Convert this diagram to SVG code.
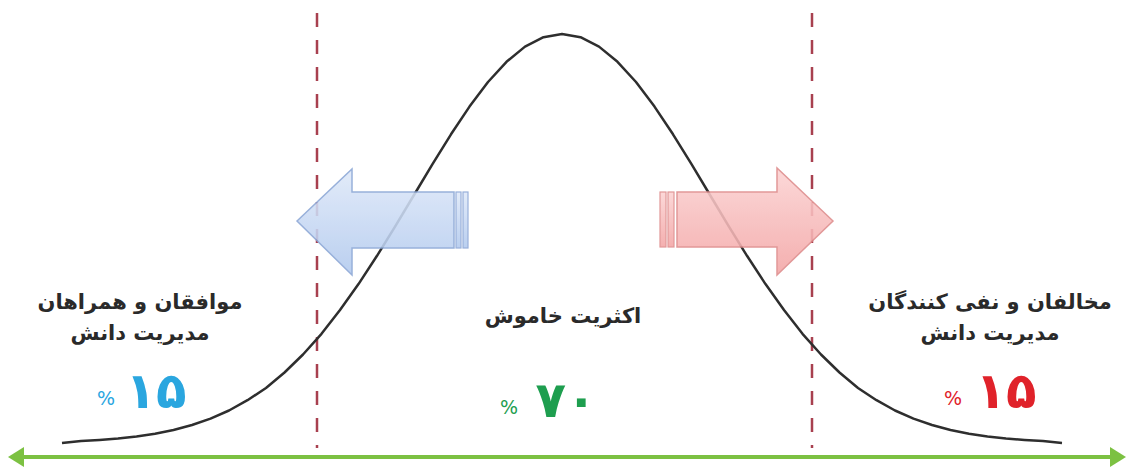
<svg xmlns="http://www.w3.org/2000/svg" width="1134" height="468" viewBox="0 0 1134 468">
<style>
.lbl{font-family:"DejaVu Sans",sans-serif;font-weight:bold;font-size:21px;fill:#2a2a2a;text-anchor:middle}
.num{font-family:"DejaVu Sans",sans-serif;font-weight:bold;font-size:50px;text-anchor:middle}
.pct{font-family:"DejaVu Sans",sans-serif;font-size:19px;text-anchor:middle}
.dash{stroke:#a8404f;stroke-width:2.5;stroke-dasharray:14 13;fill:none}
</style>
<defs>
<linearGradient id="gb" x1="0" y1="0" x2="0" y2="1">
<stop offset="0" stop-color="#dfe9f9"/><stop offset="1" stop-color="#b1c9ee"/>
</linearGradient>
<linearGradient id="gr" x1="0" y1="0" x2="0" y2="1">
<stop offset="0" stop-color="#fcd3d3"/><stop offset="1" stop-color="#f3a5a5"/>
</linearGradient>
<marker id="ga" viewBox="0 0 16 20" refX="2" refY="10" markerWidth="16" markerHeight="20" markerUnits="userSpaceOnUse" orient="auto-start-reverse">
<path d="M0,0 L16,10 L0,20 Z" fill="#7cc142"/>
</marker>
</defs>
<rect width="1134" height="468" fill="#ffffff"/>
<g id="connectors">
<line class="dash" x1="317" y1="13" x2="317" y2="448"/>
<line class="dash" x1="812" y1="13" x2="812" y2="448"/>
<line x1="22" y1="457" x2="1112" y2="457" stroke="#7cc142" stroke-width="4" marker-start="url(#ga)" marker-end="url(#ga)"/>
<polyline fill="none" stroke="#2e2e2e" stroke-width="2.5" stroke-linejoin="round" points="62,443 81,440.9 99.5,439.9 118,438.5 136.5,436.4 155,433.7 173.5,430 192,425 210.5,418.6 229,410.5 247.5,400.2 266,388 284.5,372.5 303,354.5 321.5,333.8 340,310 358.5,284.1 377,255.8 395.5,225.8 414,195 432.5,164.1 451,134.3 469.5,106.6 488,82 506.5,61.8 525,46.6 543.5,37.2 562,34 580.5,37.2 599,46.6 617.5,61.8 636,82 654.5,106.6 673,134.3 691.5,164.1 710,195 728.5,225.8 747,255.8 765.5,284.1 784,310 802.5,333.8 821,354.5 839.5,372.5 858,388 876.5,400.2 895,410.5 913.5,418.6 932,425 950.5,430 969,433.7 987.5,436.4 1006,438.5 1024.5,439.9 1043,440.9 1062,443"/>
</g>
<g id="arrow-left" opacity="0.88">
<path d="M297,221 L352,169 L352,192 L454,192 L454,248 L352,248 L352,275 Z" fill="url(#gb)" stroke="#8aa6d6" stroke-width="1.5"/>
<rect x="456" y="192" width="5" height="56" fill="url(#gb)" stroke="#8aa6d6" stroke-width="1.2"/>
<rect x="463" y="192" width="5" height="56" fill="url(#gb)" stroke="#8aa6d6" stroke-width="1.2"/>
</g>
<g id="arrow-right" opacity="0.88">
<path d="M833,221 L777,168 L777,192 L677,192 L677,247 L777,247 L777,275 Z" fill="url(#gr)" stroke="#de8a8a" stroke-width="1.5"/>
<rect x="668" y="192" width="6" height="55" fill="url(#gr)" stroke="#de8a8a" stroke-width="1.2"/>
<rect x="660" y="192" width="6" height="55" fill="url(#gr)" stroke="#de8a8a" stroke-width="1.2"/>
</g>
<g id="group-left">
<text class="lbl" x="140" y="309">موافقان و همراهان</text>
<text class="lbl" x="140" y="340">مدیریت دانش</text>
<text class="num" x="156" y="408" fill="#2aa6df">۱۵</text>
<text class="pct" x="106" y="405" fill="#2aa6df">%</text>
</g>
<g id="group-center">
<text class="lbl" x="563" y="323">اکثریت خاموش</text>
<text class="num" x="566" y="417" fill="#1e9e4f">۷۰</text>
<text class="pct" x="509" y="414" fill="#1e9e4f">%</text>
</g>
<g id="group-right">
<text class="lbl" x="990" y="309">مخالفان و نفی کنندگان</text>
<text class="lbl" x="990" y="340">مدیریت دانش</text>
<text class="num" x="1006" y="408" fill="#e0222a">۱۵</text>
<text class="pct" x="953" y="405" fill="#e0222a">%</text>
</g>
</svg>
